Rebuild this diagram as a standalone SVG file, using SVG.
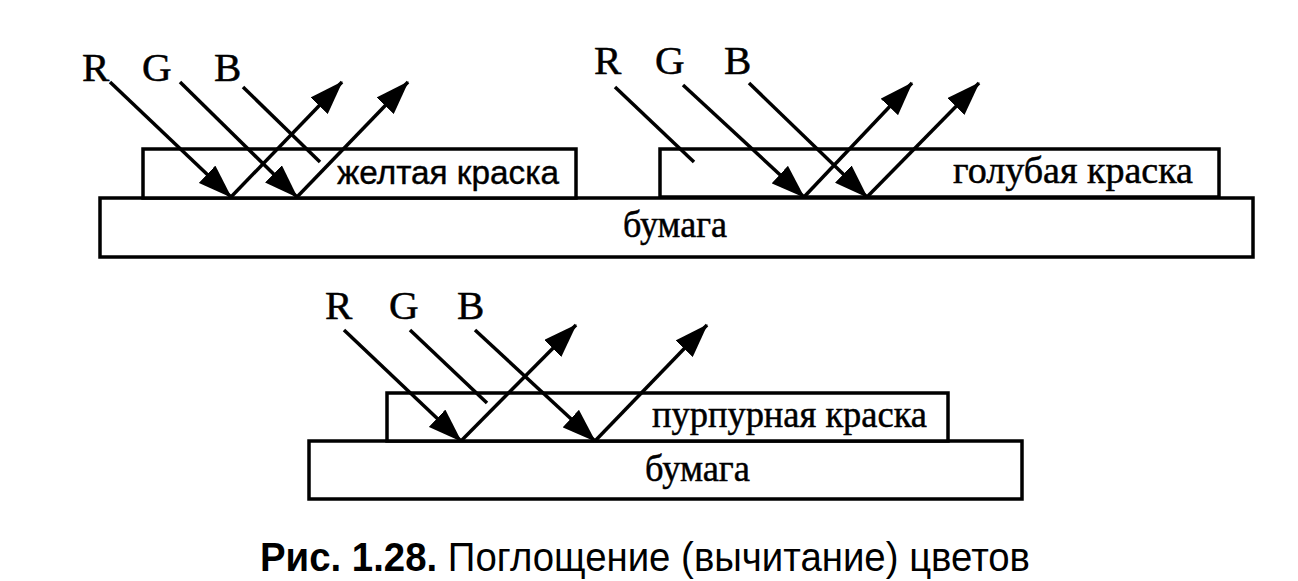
<svg xmlns="http://www.w3.org/2000/svg" width="1298" height="581" viewBox="0 0 1298 581">
<style>
.box{fill:#fff;stroke:#000;stroke-width:3.5}
.ray{fill:none;stroke:#000;stroke-width:3.5}
.rgb{font-family:"Liberation Serif","Times New Roman",serif;font-size:41px;fill:#000;stroke:#000;stroke-width:0.5}
.serif{font-family:"Liberation Serif","Times New Roman",serif;font-size:38px;fill:#000;stroke:#000;stroke-width:0.5}
.sans{font-family:"Liberation Sans",Arial,sans-serif;font-size:33px;fill:#000;stroke:#000;stroke-width:0.4}
.cap{font-family:"Liberation Sans",Arial,sans-serif;font-size:41px;fill:#000}
</style>
<defs>
<marker id="ah" markerUnits="userSpaceOnUse" markerWidth="34" markerHeight="24" viewBox="0 0 34 24" refX="33" refY="12" orient="auto">
<path d="M0,0 L34,12 L0,24 Z" fill="#000"/>
</marker>
</defs>
<rect width="1298" height="581" fill="#fff"/>

<g id="paper-top">
<rect class="box" x="100" y="198" width="1153" height="59"/>
<text class="serif" x="623" y="237" textLength="104" lengthAdjust="spacingAndGlyphs">бумага</text>
</g>
<g id="yellow-paint">
<rect class="box" x="143" y="149" width="433" height="49"/>
<text class="sans" x="337" y="184" textLength="222" lengthAdjust="spacingAndGlyphs">желтая краска</text>
</g>
<g id="cyan-paint">
<rect class="box" x="660" y="149" width="559" height="48"/>
<text class="serif" x="953" y="183" textLength="240" lengthAdjust="spacingAndGlyphs">голубая краска</text>
</g>
<g id="paper-bottom">
<rect class="box" x="309" y="441" width="713" height="58"/>
<text class="serif" x="645" y="481" textLength="105" lengthAdjust="spacingAndGlyphs">бумага</text>
</g>
<g id="magenta-paint">
<rect class="box" x="387" y="393" width="561" height="48"/>
<text class="serif" x="652" y="427" textLength="275" lengthAdjust="spacingAndGlyphs">пурпурная краска</text>
</g>

<g id="labels-top-left">
<text class="rgb" x="82" y="81">R</text>
<text class="rgb" x="142" y="81">G</text>
<text class="rgb" x="214" y="81">B</text>
</g>
<g id="labels-top-right">
<text class="rgb" x="594" y="74">R</text>
<text class="rgb" x="655" y="74">G</text>
<text class="rgb" x="724" y="74">B</text>
</g>
<g id="labels-bottom">
<text class="rgb" x="325" y="319">R</text>
<text class="rgb" x="389" y="319">G</text>
<text class="rgb" x="457" y="319">B</text>
</g>

<g id="connectors">
<line class="ray" x1="110" y1="82" x2="231" y2="197" marker-end="url(#ah)"/>
<line class="ray" x1="180" y1="82" x2="297" y2="197" marker-end="url(#ah)"/>
<line class="ray" x1="243" y1="87" x2="320" y2="162"/>
<line class="ray" x1="231" y1="197" x2="342" y2="82" marker-end="url(#ah)"/>
<line class="ray" x1="297" y1="197" x2="408" y2="82" marker-end="url(#ah)"/>

<line class="ray" x1="615" y1="87" x2="694" y2="162"/>
<line class="ray" x1="683" y1="85" x2="804" y2="197" marker-end="url(#ah)"/>
<line class="ray" x1="749" y1="83" x2="867" y2="197" marker-end="url(#ah)"/>
<line class="ray" x1="804" y1="197" x2="912" y2="83" marker-end="url(#ah)"/>
<line class="ray" x1="867" y1="197" x2="979" y2="83" marker-end="url(#ah)"/>

<line class="ray" x1="344" y1="330" x2="461" y2="441" marker-end="url(#ah)"/>
<line class="ray" x1="410" y1="330" x2="487" y2="403"/>
<line class="ray" x1="475" y1="330" x2="595" y2="441" marker-end="url(#ah)"/>
<line class="ray" x1="461" y1="441" x2="576" y2="325" marker-end="url(#ah)"/>
<line class="ray" x1="595" y1="441" x2="707" y2="325" marker-end="url(#ah)"/>
</g>

<g id="caption">
<text class="cap" x="260" y="571" textLength="770" lengthAdjust="spacingAndGlyphs"><tspan font-weight="bold">Рис. 1.28.</tspan> Поглощение (вычитание) цветов</text>
</g>
</svg>
